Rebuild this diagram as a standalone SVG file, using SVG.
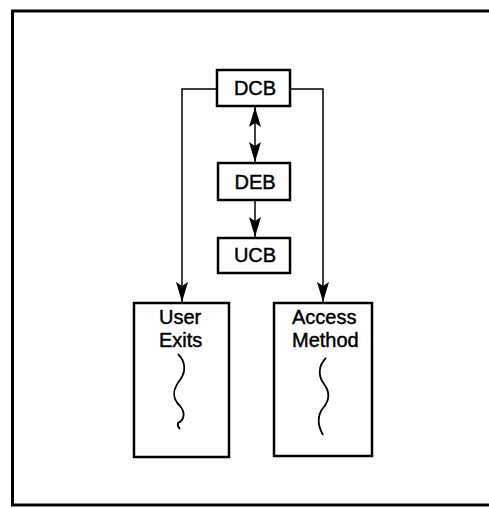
<svg xmlns="http://www.w3.org/2000/svg" width="489" height="508" viewBox="0 0 489 508">
<defs>
<marker id="ah" viewBox="0 0 20 12" refX="20" refY="6" markerWidth="20" markerHeight="12" markerUnits="userSpaceOnUse" orient="auto-start-reverse">
<path d="M0,0 L20,6 L0,12 L4,6 Z" fill="#000"/>
</marker>
</defs>
<style>
.box{fill:#fff;stroke:#000;stroke-width:2.5}
.lbl{font-family:"Liberation Sans",Arial,sans-serif;font-size:20px;fill:#000;stroke:#000;stroke-width:0.45}
.conn{fill:none;stroke:#000;stroke-width:1.5}
.sq{fill:none;stroke:#000;stroke-width:1.8}
</style>
<rect width="489" height="508" fill="#fff"/>
<path d="M495,11 L12.5,11 L12.5,505 L495,505" fill="none" stroke="#000" stroke-width="3"/>
<g id="connectors">
<path class="conn" d="M217,89 L182,89 L182,302" marker-end="url(#ah)"/>
<path class="conn" d="M290,89 L323,89 L323,302" marker-end="url(#ah)"/>
<path class="conn" d="M255,107 L255,162" marker-start="url(#ah)" marker-end="url(#ah)"/>
<path class="conn" d="M255,200 L255,237" marker-end="url(#ah)"/>
</g>
<g id="dcb">
<rect class="box" x="217" y="70" width="73" height="36"/>
<text class="lbl" x="255" y="95" text-anchor="middle">DCB</text>
</g>
<g id="deb">
<rect class="box" x="218" y="163" width="72" height="37"/>
<text class="lbl" x="255" y="189" text-anchor="middle">DEB</text>
</g>
<g id="ucb">
<rect class="box" x="218" y="238" width="72" height="35"/>
<text class="lbl" x="255" y="262" text-anchor="middle">UCB</text>
</g>
<g id="user-exits">
<rect class="box" x="134" y="303" width="95" height="154"/>
<text class="lbl" x="159" y="324">User</text>
<text class="lbl" x="159" y="347">Exits</text>
<path class="sq" d="M178,354 C186,362 186,372 180,380 C172,390 172,398 180,406 C186,413 184,420 178,423 C177,426 179,428 180,429"/>
</g>
<g id="access-method">
<rect class="box" x="274" y="303" width="98" height="153"/>
<text class="lbl" x="292" y="324">Access</text>
<text class="lbl" x="292" y="347">Method</text>
<path class="sq" d="M326,358 C318,366 318,376 324,384 C330,392 330,400 323,408 C317,416 318,426 323,435"/>
</g>
</svg>
